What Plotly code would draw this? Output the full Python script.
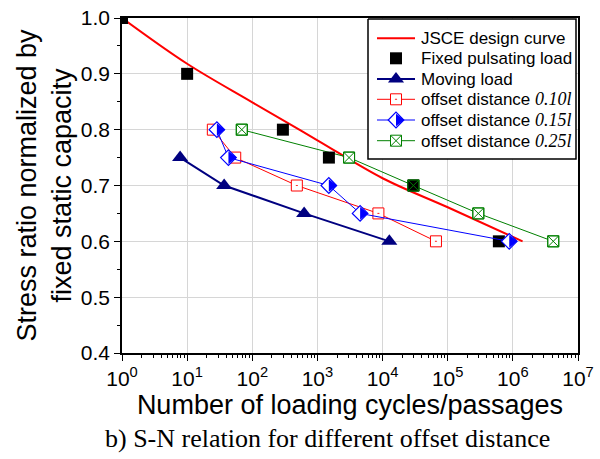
import plotly.graph_objects as go

# ---- data ----
jsce_n = [1, 10, 100, 1000, 1e4, 1e5, 1.41e6]
jsce_s = [1.0, 0.918, 0.849, 0.781, 0.713, 0.661, 0.6]

fixed_n = [1, 10, 295, 1500, 29800, 6.1e5]
fixed_s = [1.0, 0.9, 0.8, 0.75, 0.7, 0.6]

moving_n = [7.8, 37, 625, 12700]
moving_s = [0.75, 0.70, 0.65, 0.60]

off10_n = [24.8, 54.7, 483, 8630, 66000]
off10_s = [0.8, 0.75, 0.7, 0.65, 0.6]

off15_n = [28.6, 43, 1496, 4520, 8.8e5]
off15_s = [0.8, 0.75, 0.7, 0.65, 0.6]

off25_n = [69, 3060, 29700, 2.95e5, 4.17e6]
off25_s = [0.8, 0.75, 0.7, 0.65, 0.6]

x_tick_vals = [1, 10, 100, 1e3, 1e4, 1e5, 1e6, 1e7]
x_tick_text = ["10<sup>%d</sup>" % k for k in range(8)]
y_tick_vals = [0.4, 0.5, 0.6, 0.7, 0.8, 0.9, 1.0]
y_tick_text = ["0.4", "0.5", "0.6", "0.7", "0.8", "0.9", "1.0"]

legend_labels = [
    "JSCE design curve",
    "Fixed pulsating load",
    "Moving load",
    "offset distance <span style='font-family:Liberation Serif;font-size:18px'><i>0.10l</i></span>",
    "offset distance <span style='font-family:Liberation Serif;font-size:18px'><i>0.15l</i></span>",
    "offset distance <span style='font-family:Liberation Serif;font-size:18px'><i>0.25l</i></span>",
]

RED = "#ff0000"
NAVY = "#000080"
BLUE = "#0000ff"
GREEN = "#008000"
SANS = "Arial, Liberation Sans, sans-serif"
SERIF = "Times New Roman, Liberation Serif, serif"

D_SIZE = 12     # diamond marker size
T_SIZE = 11     # size of the filled right half of the diamond

fig = go.Figure()

# JSCE design curve
fig.add_trace(go.Scatter(x=jsce_n, y=jsce_s, mode="lines",
                         line=dict(color=RED, width=2, shape="spline", smoothing=1),
                         hoverinfo="skip"))

# offset 0.25l (filled white underneath so lines don't show inside)
fig.add_trace(go.Scatter(x=off25_n, y=off25_s, mode="lines+markers",
                         line=dict(color=GREEN, width=1),
                         marker=dict(symbol="square", size=11, color="white",
                                     line=dict(color=GREEN, width=1))))

# fixed pulsating load
fig.add_trace(go.Scatter(x=fixed_n, y=fixed_s, mode="markers",
                         marker=dict(symbol="square", size=12, color="black",
                                     line=dict(width=0))))

# crossed squares on top for 0.25l
fig.add_trace(go.Scatter(x=off25_n, y=off25_s, mode="markers",
                         marker=dict(symbol="square-x-open", size=11, color=GREEN,
                                     line=dict(color=GREEN, width=1))))

# moving load
fig.add_trace(go.Scatter(x=moving_n, y=moving_s, mode="lines+markers",
                         line=dict(color=NAVY, width=2),
                         marker=dict(symbol="triangle-up", size=14, color=NAVY,
                                     line=dict(width=0))))

# offset 0.10l
fig.add_trace(go.Scatter(x=off10_n, y=off10_s, mode="lines+markers",
                         line=dict(color=RED, width=1),
                         marker=dict(symbol="square-dot", size=11, color="white",
                                     line=dict(color=RED, width=1))))

# offset 0.15l: white diamond with a filled right half
fig.add_trace(go.Scatter(x=off15_n, y=off15_s, mode="lines+markers",
                         line=dict(color=BLUE, width=1),
                         marker=dict(symbol="diamond", size=D_SIZE, color="white",
                                     line=dict(color=BLUE, width=1.2))))
fig.add_trace(go.Scatter(x=off15_n, y=off15_s, mode="markers",
                         marker=dict(symbol="triangle-down", size=T_SIZE, color=BLUE,
                                     angle=-90, standoff=T_SIZE / 4,
                                     line=dict(width=0))))

# ---- legend drawn on a pixel-scaled overlay axis ----
box_x = [368, 576, 576, 368, 368]
box_y = [19, 19, 159, 159, 19]
row_y = [38.3, 58.3, 79, 99.3, 120, 140.7]
sample_x = [377, 415]
mark_x = 396
text_x = 419

fig.add_trace(go.Scatter(x=box_x, y=box_y, xaxis="x2", yaxis="y2", mode="lines",
                         fill="toself", fillcolor="white",
                         line=dict(color="black", width=1.5), hoverinfo="skip"))

legend_styles = [
    dict(line=dict(color=RED, width=2), marker=None),
    dict(line=None, marker=dict(symbol="square", size=12, color="black", line=dict(width=0))),
    dict(line=dict(color=NAVY, width=2),
         marker=dict(symbol="triangle-up", size=14, color=NAVY, line=dict(width=0))),
    dict(line=dict(color=RED, width=1),
         marker=dict(symbol="square-dot", size=11, color="white", line=dict(color=RED, width=1))),
    dict(line=dict(color=BLUE, width=1),
         marker=dict(symbol="diamond", size=D_SIZE, color="white", line=dict(color=BLUE, width=1.2))),
    dict(line=dict(color=GREEN, width=1),
         marker=dict(symbol="square-x", size=11, color="white", line=dict(color=GREEN, width=1))),
]

for yy, st, label in zip(row_y, legend_styles, legend_labels):
    if st["line"] is not None:
        fig.add_trace(go.Scatter(x=sample_x, y=[yy, yy], xaxis="x2", yaxis="y2",
                                 mode="lines", line=st["line"], hoverinfo="skip"))
    if st["marker"] is not None:
        fig.add_trace(go.Scatter(x=[mark_x], y=[yy], xaxis="x2", yaxis="y2",
                                 mode="markers", marker=st["marker"], hoverinfo="skip"))
    fig.add_annotation(x=text_x, y=yy, xref="x2", yref="y2", text=label,
                       showarrow=False, xanchor="left", yanchor="middle",
                       font=dict(family=SANS, size=17, color="black"))

fig.add_trace(go.Scatter(x=[mark_x], y=[row_y[4]], xaxis="x2", yaxis="y2", mode="markers",
                         marker=dict(symbol="triangle-down", size=T_SIZE, color=BLUE,
                                     angle=-90, standoff=T_SIZE / 4, line=dict(width=0)),
                         hoverinfo="skip"))

# caption
fig.add_annotation(x=(327 - 122) / 456, y=-(438 - 353) / 335, xref="paper", yref="paper",
                   text="b) S-N relation for different offset distance",
                   showarrow=False, xanchor="center", yanchor="middle",
                   font=dict(family=SERIF, size=26, color="black"))

axis_common = dict(
    showline=True, linecolor="black", linewidth=1.5, mirror=True,
    ticks="outside", ticklen=6, tickwidth=1.2, tickcolor="black",
    showgrid=True, gridcolor="#d6d6d6", gridwidth=1, zeroline=False,
    automargin=False,
    tickfont=dict(family=SANS, size=21, color="black"),
)

fig.update_layout(
    width=600, height=459,
    margin=dict(l=122, r=22, t=18, b=106, pad=0),
    paper_bgcolor="white", plot_bgcolor="white",
    showlegend=False,
    font=dict(family=SANS, color="black"),
    xaxis=dict(type="log", range=[0, 7], tickmode="array",
               tickvals=x_tick_vals, ticktext=x_tick_text,
               minor=dict(ticks="outside", ticklen=3.5, tickwidth=1, tickcolor="black",
                          dtick="D1", showgrid=False),
               title=dict(text="Number of loading cycles/passages",
                          font=dict(family=SANS, size=27), standoff=2),
               **axis_common),
    yaxis=dict(range=[0.4, 1.0], tickmode="array",
               tickvals=y_tick_vals, ticktext=y_tick_text,
               minor=dict(ticks="outside", ticklen=3.5, tickwidth=1, tickcolor="black",
                          dtick=0.05, tick0=0.4, showgrid=False),
               title=dict(text="Stress ratio normalized by<br>fixed static capacity",
                          font=dict(family=SANS, size=27), standoff=1),
               **axis_common),
    xaxis2=dict(overlaying="x", range=[122, 578], visible=False),
    yaxis2=dict(overlaying="y", range=[353, 18], visible=False),
)

fig.write_html("out.html")
